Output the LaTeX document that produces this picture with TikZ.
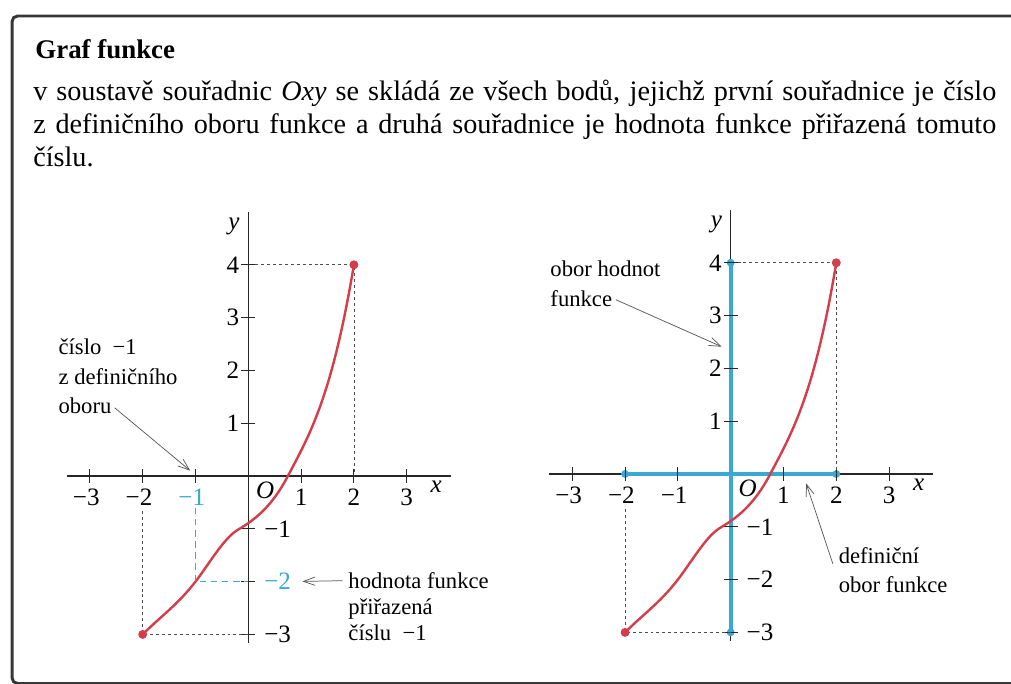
\documentclass[tikz,border=0pt]{standalone}
\usepackage{fontspec}
\setmainfont{Liberation Serif}
\usetikzlibrary{arrows.meta,calc}
\definecolor{gfred}{RGB}{212,62,74}
\definecolor{gfblue}{RGB}{58,168,210}
\definecolor{gfframe}{RGB}{55,55,55}
\tikzset{
  axis/.style={line width=0.7pt, black!85},
  tck/.style={line width=0.6pt, black!85},
  crv/.style={gfred, line width=1.3pt},
  enddot/.style={fill=gfred},
  guide/.style={black!70, line width=0.4pt, dash pattern=on 1.6pt off 1.6pt},
  guideb/.style={gfblue, line width=0.6pt, dash pattern=on 3.5pt off 2.5pt},
  rng/.style={gfblue, line width=2.3pt},
  rngdot/.style={fill=gfblue},
  note/.style={-{Straight Barb[length=2.2mm,width=1.6mm]}, black!65, line width=0.4pt},
  lbl/.style={font=\fontsize{13.5}{15}\selectfont, inner sep=1pt},
  ann/.style={font=\fontsize{12.2}{14}\selectfont, anchor=base west, inner sep=0pt},
}
\newcommand{\gfaxes}{\draw[axis] (-3.44,0) -- (3.84,0);
  \draw[axis] (0,-3.16) -- (0,5.0);}
% ticks, labels, guides and the curve; #1 prefix of node names, #2 colour of -1 and -2
\newcommand{\gfmarks}[2]{%
  \foreach \i in {-3,-2,-1,1,2,3}{\draw[tck] (\i,-0.13) -- (\i,0.13);}
  \foreach \j in {-3,-2,-1,1,2,3,4}{\draw[tck] (-0.13,\j) -- (0.13,\j);}
  \foreach \i/\t in {-3/−3,-2/−2}{\node[lbl, anchor=base] (#1x\i) at (\i-0.07,-0.56) {\t};}
  \node[lbl, anchor=base, text=#2] (#1x-1) at (-1.07,-0.56) {−1};
  \foreach \i in {1,2,3}{\node[lbl, anchor=base] (#1x\i) at (\i,-0.56) {\i};}
  \foreach \j in {1,2,3,4}{\node[lbl, anchor=east] (#1y\j) at (-0.13,\j) {\j};}
  \foreach \j/\t in {-1/−1,-3/−3}{\node[lbl, anchor=west] (#1y\j) at (0.26,\j) {\t};}
  \node[lbl, anchor=west, text=#2] (#1y-2) at (0.26,-2) {−2};
  \node[lbl] (#1O) at (0.32,-0.28) {\textit{O}};
  \node[lbl] (#1xl) at (3.56,-0.2) {\textit{x}};
  \node[lbl] (#1yl) at (-0.27,4.72) {\textit{y}};
  \draw[guide] (0.13,4) -- (2,4) -- (2,0);
  \draw[guide] (0,-3) -- (-2,-3) -- (-2,-0.66);
  \draw[crv] (-2,-3) .. controls (-1.667,-2.667) and (-1.333,-2.433) .. (-1,-2)
    .. controls (-0.733,-1.653) and (-0.467,-1.18) .. (-0.2,-1.02)
    .. controls (0.117,-0.83) and (0.433,-0.602) .. (0.75,0)
    .. controls (1.167,0.792) and (1.583,1.5) .. (2,4);
  \fill[enddot] (-2,-3) circle (0.085);
  \fill[enddot] (2,4) circle (0.085);}

\begin{document}
\begin{tikzpicture}
  \useasboundingbox (-4.703,-3.939) rectangle (14.445,9.015);
  \clip (-4.703,-3.939) rectangle (14.445,9.015);
  % frame and text
  \draw[gfframe, line width=1.6pt, rounded corners=3pt] (16,-3.93) -- (-4.475,-3.93)
    -- (-4.475,8.712) -- (16,8.712);
  \node[anchor=base west, inner sep=0pt, font=\bfseries\fontsize{14.5}{17}\selectfont] (title)
    at (-4.04,7.90) {Graf funkce};
  \node[anchor=north west, inner sep=0pt, text width=18.24cm, align=justify,
    font=\fontsize{15.2}{17.8}\selectfont] (body) at (-4.08,7.51)
    {v soustavě souřadnic \textit{Oxy} se skládá ze všech bodů, jejichž první souřadnice je číslo\linebreak
     z definičního oboru funkce a druhá souřadnice je hodnota funkce přiřazená tomuto\linebreak
     číslu.};
  % left graph
  \begin{scope}
    \gfaxes
    \gfmarks{L}{gfblue}
    \draw[guideb] (Lx-1.south -| 0,0) ++(-1,0) -- (-1,-2) -- (0,-2);
    \node[ann] (cis1) at (-3.6,2.31) {číslo\enspace−1};
    \node[ann] (cis2) at (-3.6,1.74) {z definičního};
    \node[ann] (cis3) at (-3.6,1.19) {oboru};
    \coordinate (Ltip) at (-1.1,0.1);
    \draw[note, shorten <=2pt] (cis3.east) -- (Ltip);
    \node[ann] (hod1) at (1.89,-2.13) {hodnota funkce};
    \node[ann] (hod2) at (1.89,-2.62) {přiřazená};
    \node[ann] (hod3) at (1.89,-3.11) {číslu\enspace−1};
    \draw[note, shorten <=3pt, shorten >=5pt] (hod1.west) -- (Ly-2.east);
  \end{scope}
  % right graph
  \begin{scope}[xshift=9.136cm, yshift=0.038cm]
    \gfaxes
    \draw[rng] (0,-3) -- (0,4);
    \draw[rng] (-2,0) -- (2,0);
    \foreach \p in {(0,-3),(0,4),(-2,0),(2,0)}{\fill[rngdot] \p circle (0.075);}
    \gfmarks{R}{black}
    \node[ann] (obh1) at (-3.42,3.74) {obor hodnot};
    \node[ann] (obh2) at (-3.42,3.18) {funkce};
    \coordinate (Rtip) at (-0.17,2.41);
    \draw[note, shorten <=2pt] (obh2.east) -- (Rtip);
    \node[ann] (dob1) at (2.04,-1.69) {definiční};
    \node[ann] (dob2) at (2.04,-2.25) {obor funkce};
    \coordinate (Rdom) at (1.43,-0.18);
    \draw[note] ([xshift=-3pt]dob1.south west) -- (Rdom);
  \end{scope}
\end{tikzpicture}
\end{document}
